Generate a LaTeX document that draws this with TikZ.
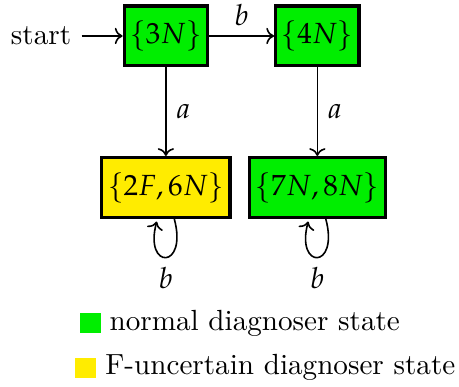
\documentclass[11pt,tikz,border=0pt]{standalone}
\usepackage{xcolor}
\usepackage{tikz}
\usepackage{amssymb}
\usepackage{amsmath}
\usepackage{mathpazo}
\usetikzlibrary{arrows.meta}
\usetikzlibrary{arrows}
\usetikzlibrary{automata}
\usetikzlibrary{positioning}

\definecolor{normalgreen}{RGB}{0,238,0}
\definecolor{uncyellow}{RGB}{255,236,0}

\begin{document}
\begin{tikzpicture}
          \useasboundingbox (-2.19,0.475) rectangle (3.87,-4.63);
          \begin{scope}[every node/.style={rectangle,very thick,draw,inner xsep=2.2pt,minimum height=0.79cm}]
            \node[fill=normalgreen] (n3) at (0,0) {$\{3N\}$};
            \node[fill=normalgreen] (n4) at (2,0) {$\{4N\}$};
            \node[fill=uncyellow] (f2n6) at (0,-2) {$\{2F,6N\}$};
            \node[fill=normalgreen] (n7n8) at (2,-2) {$\{7N,8N\}$};
          \end{scope}
          \node (start) [left=0.54cm of n3, inner sep=3.75pt] {start};
          \begin{scope}[every edge/.style={draw=black,semithick,->}]
            \path (start) edge (n3);
            \path (n3) edge node[above] {$b$} (n4);
            \path (n3) edge node[right] {$a$} (f2n6);
            \path (n4) edge node[right] {$a$} (n7n8);
            \path (f2n6) edge [loop below] node[below] {$b$} ();
            \path (n7n8) edge [loop below] node[below] {$b$} ();
          \end{scope}
          % legend
          \begin{scope}[every node/.style={inner sep=0pt}]
            \node[fill=normalgreen,minimum width=0.28cm,minimum height=0.27cm] (keyn) at (-1.0,-3.79) {};
            \node[anchor=west] (keyntext) at (-0.75,-3.79) {normal diagnoser state};
            \node[fill=uncyellow,minimum width=0.28cm,minimum height=0.27cm] (keyf) at (-1.06,-4.38) {};
            \node[anchor=west] (keyftext) at (-0.805,-4.38) {F-uncertain diagnoser state};
          \end{scope}
        \end{tikzpicture}
\end{document}
